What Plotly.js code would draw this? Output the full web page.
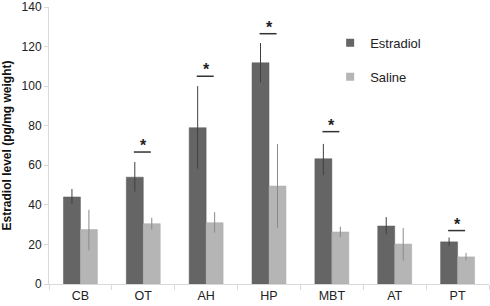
<!DOCTYPE html>
<html><head><meta charset="utf-8">
<script src="https://cdn.plot.ly/plotly-3.0.1.min.js"></script>
<style>html,body{margin:0;padding:0;background:#fff}#chart{width:490px;height:306px}</style>
</head><body><div id="chart"></div>
<script>
const categories = ['CB','OT','AH','HP','MBT','AT','PT'];
const estradiol = [44, 54, 79, 111.8, 63.3, 29.3, 21.3];
const estradiolErrUp = [4, 7.7, 21, 10, 7.5, 4.5, 2.2];
const estradiolErrDown = [3.5, 7.3, 20.7, 9.8, 8.3, 4.1, 2.0];
const saline = [27.5, 30.5, 31, 49.5, 26.3, 20.2, 13.7];
const salineErrUp = [10, 3, 5.3, 21.2, 2.7, 8.1, 2];
const salineErrDown = [10.5, 3, 5, 21.2, 2.6, 8.4, 1.7];
// significance markers: category, line height
const sigCats = ['OT','AH','HP','MBT','PT'];
const sigY = [66.7, 105, 126.5, 77, 27];

const traces = [
  {type:'bar', name:'Estradiol', x:categories, y:estradiol, showlegend:false,
   marker:{color:'#656565', line:{color:'#5a5a5a', width:0.5}},
   error_y:{type:'data', symmetric:false, array:estradiolErrUp, arrayminus:estradiolErrDown, color:'#3f3f3f', thickness:1, width:0}},
  {type:'bar', name:'Saline', x:categories, y:saline, showlegend:false,
   marker:{color:'#b5b5b5', line:{color:'#aaaaaa', width:0.5}},
   error_y:{type:'data', symmetric:false, array:salineErrUp, arrayminus:salineErrDown, color:'#8a8a8a', thickness:1, width:0}},
  {type:'scatter', mode:'markers', name:'Estradiol', x:[null], y:[null], legendgroup:'a',
   marker:{symbol:'square', size:8, color:'#656565'}},
  {type:'scatter', mode:'markers', name:'Saline', x:[null], y:[null], legendgroup:'b',
   marker:{symbol:'square', size:8, color:'#b5b5b5'}}
];

const shapes = sigCats.map((c,i)=>{
  const k = categories.indexOf(c);
  return {type:'line', xref:'x', yref:'y', x0:k-0.15, x1:k+0.12, y0:sigY[i], y1:sigY[i],
          line:{color:'#333333', width:1.5}};
});
const annotations = sigCats.map((c,i)=>({
  xref:'x', yref:'y', x:categories.indexOf(c), y:sigY[i], yanchor:'bottom', yshift:-4,
  text:'<b>*</b>', showarrow:false, font:{family:'Liberation Sans, Arial', size:16, color:'#222'}
}));

const layout = {
  width:490, height:306,
  margin:{l:49, r:1, t:7, b:22, pad:0},
  paper_bgcolor:'#fff', plot_bgcolor:'#fff',
  font:{family:'Liberation Sans, Arial, sans-serif', color:'#222'},
  barmode:'group', bargap:0.46, bargroupgap:0,
  showlegend:true,
  legend:{x:0.639, y:0.925, xanchor:'left', yanchor:'top', bgcolor:'rgba(0,0,0,0)',
          font:{size:13, color:'#222'}, traceorder:'grouped', tracegroupgap:14, itemwidth:30},
  xaxis:{type:'category', showline:true, linecolor:'#d9d9d9', linewidth:1,
         ticks:'outside', tickson:'boundaries', ticklen:5, tickcolor:'#d9d9d9',
         tickfont:{size:12.5, color:'#222'}, showgrid:false, zeroline:false, fixedrange:true},
  yaxis:{range:[0,140], dtick:20, showline:true, linecolor:'#d9d9d9', linewidth:1,
         ticks:'outside', ticklen:4, tickcolor:'#d9d9d9', showgrid:false, zeroline:false,
         ticklabeloverflow:'allow', tickfont:{size:12, color:'#222'},
         title:{text:'<b>Estradiol level (pg/mg weight)</b>', font:{size:12, color:'#111'}, standoff:8}},
  shapes:shapes, annotations:annotations
};
Plotly.newPlot('chart', traces, layout, {displayModeBar:false, staticPlot:true});
</script></body></html>
